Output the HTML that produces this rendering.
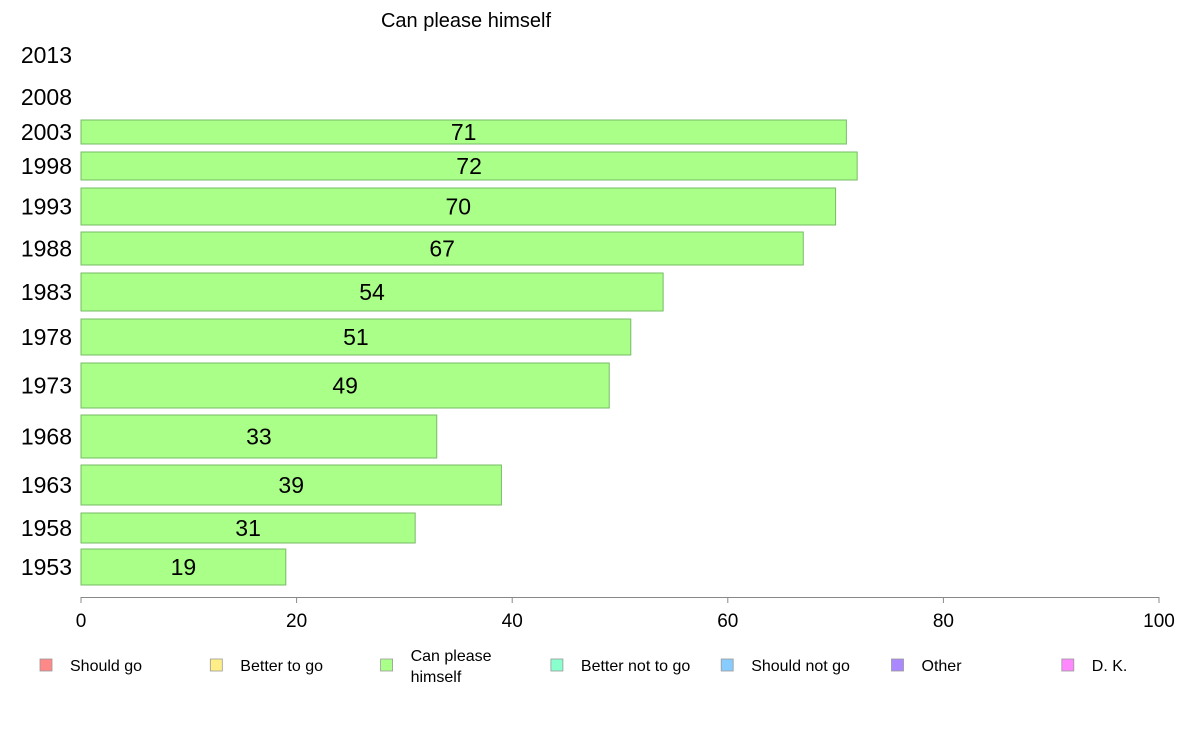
<!DOCTYPE html>
<html><head><meta charset="utf-8"><style>
html,body{margin:0;padding:0;background:#fff;}
svg text{font-family:"Liberation Sans",Arial,sans-serif;}
</style></head><body>
<svg id="chart" width="1188" height="736" viewBox="0 0 1188 736">
<text x="466" y="27" font-size="20" text-anchor="middle">Can please himself</text>
<g id="bars"></g>
<g id="axis"></g>
<g id="legend"></g>
</svg>
<script>
const years = ['2013','2008','2003','1998','1993','1988','1983','1978','1973','1968','1963','1958','1953'];
const values = [null,null,71,72,70,67,54,51,49,33,39,31,19];
const tickLabels = [0,20,40,60,80,100];
const legendLabels = [['Should go'],['Better to go'],['Can please','himself'],['Better not to go'],['Should not go'],['Other'],['D. K.']];
const legendColors = ['#ff8888','#ffee88','#aaff88','#88ffcc','#88ccff','#aa88ff','#ff88ff'];
// layout: band top/bottom per row (pixel layout, not data)
const bandTop = [40,82,120,152,188,232,273,319,363,415,465,513,549];
const bandBot = [70,112,144,180,225,265,311,355,408,458,505,543,585];

const NS='http://www.w3.org/2000/svg';
const x0=81, x1=1159;
const xs = v => x0 + (v/100)*(x1-x0);
function mk(tag, attrs, parent){const e=document.createElementNS(NS,tag);for(const k in attrs)e.setAttribute(k,attrs[k]);parent.appendChild(e);return e;}
const gb=document.getElementById('bars'), ga=document.getElementById('axis'), gl=document.getElementById('legend');

years.forEach((y,i)=>{
  const cy=(bandTop[i]+bandBot[i])/2;
  const t=mk('text',{x:72,y:cy+8,'font-size':23,'text-anchor':'end'},gb);
  t.textContent=y;
  
  
  const v=values[i];
  if(v==null) return;
  const r=mk('rect',{x:xs(0),y:bandTop[i],width:xs(v)-xs(0),height:bandBot[i]-bandTop[i],fill:'#aaff88',stroke:'#77bb66','stroke-width':1},gb);
  
  
  const l=mk('text',{x:xs(v/2),y:cy+8,'font-size':23,'text-anchor':'middle'},gb);
  l.textContent=v;
  
  
});

const ax=mk('line',{x1:x0,x2:x1,y1:597.5,y2:597.5,stroke:'#888','stroke-width':1},ga);


tickLabels.forEach(t=>{
  const tk=mk('line',{x1:xs(t),x2:xs(t),y1:597,y2:603,stroke:'#888','stroke-width':1},ga);
  
  
  const tl=mk('text',{x:xs(t),y:627,'font-size':19,'text-anchor':'middle'},ga);
  tl.textContent=t;
  
  
});

legendLabels.forEach((lab,i)=>{
  const lx=40+i*170.3;
  const g=mk('g',{},gl);
  
  
  mk('rect',{x:lx,y:659,width:12,height:12,fill:legendColors[i],stroke:'#999','stroke-width':0.8},g);
  if(lab.length===1){
    const t=mk('text',{x:lx+30,y:671,'font-size':16},g);t.textContent=lab[0];
  } else {
    lab.forEach((s,j)=>{const t=mk('text',{x:lx+30,y:661+j*21,'font-size':16},g);t.textContent=s;});
  }
});
</script>
</body></html>
